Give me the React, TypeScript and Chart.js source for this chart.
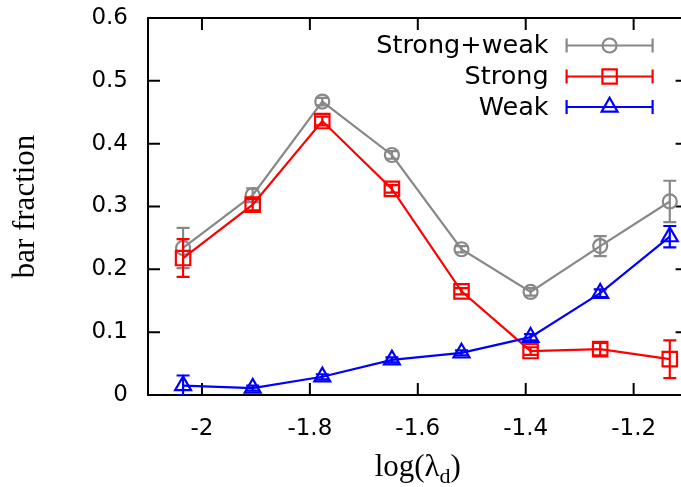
import React, { useEffect, useRef } from "react";
import { Chart, registerables } from "chart.js";
import { drawPoint } from "chart.js/helpers";

Chart.register(...registerables);

const logLambda = [-2.035, -1.906, -1.777, -1.648, -1.519, -1.391, -1.262, -1.133];
const strongWeakValues = [0.234, 0.318, 0.467, 0.382, 0.232, 0.164, 0.237, 0.308];
const strongWeakErrors = [0.032, 0.011, 0.006, 0.006, 0.005, 0.006, 0.016, 0.033];
const strongValues = [0.218, 0.303, 0.436, 0.328, 0.165, 0.07, 0.073, 0.057];
const strongErrors = [0.03, 0.009, 0.007, 0.006, 0.005, 0.006, 0.01, 0.03];
const weakValues = [0.015, 0.011, 0.029, 0.056, 0.067, 0.092, 0.162, 0.252];
const weakErrors = [0.016, 0.004, 0.004, 0.004, 0.004, 0.005, 0.006, 0.017];

const seriesNames = ["Strong+weak", "Strong", "Weak"];
const xTickValues = [-2, -1.8, -1.6, -1.4, -1.2];
const xTickLabels = ["-2", "-1.8", "-1.6", "-1.4", "-1.2"];
const yTickValues = [0, 0.1, 0.2, 0.3, 0.4, 0.5, 0.6];
const yTickLabels = ["0", "0.1", "0.2", "0.3", "0.4", "0.5", "0.6"];
const yTitle = "bar fraction";
const xTitleMain = "log(λ";
const xTitleSub = "d";
const xTitleEnd = ")";

const GRAY = "#888888";
const RED = "#ff0000";
const BLUE = "#0000ff";
const SANS = "'DejaVu Sans', sans-serif";
const SERIF = "'Liberation Serif', 'Times New Roman', serif";
const LW = 2.2;

const styles = [
  { color: GRAY, pointStyle: "circle", radius: 7 },
  { color: RED, pointStyle: "rect", radius: 10.2 },
  { color: BLUE, pointStyle: "triangle", radius: 9.2 },
];
const errorSets = [strongWeakErrors, strongErrors, weakErrors];

const framePlugin = {
  id: "frame",
  beforeDatasetsDraw(chart: any) {
    const { ctx, chartArea: a, scales } = chart;
    ctx.save();
    ctx.strokeStyle = "#000";
    ctx.lineWidth = 2;
    ctx.strokeRect(a.left, a.top, a.right - a.left, a.bottom - a.top);
    const tl = 12;
    ctx.beginPath();
    for (const v of xTickValues) {
      const px = scales.x.getPixelForValue(v);
      ctx.moveTo(px, a.bottom);
      ctx.lineTo(px, a.bottom - tl);
      ctx.moveTo(px, a.top);
      ctx.lineTo(px, a.top + tl);
    }
    for (const v of yTickValues) {
      const py = scales.y.getPixelForValue(v);
      ctx.moveTo(a.left, py);
      ctx.lineTo(a.left + tl, py);
      ctx.moveTo(a.right, py);
      ctx.lineTo(a.right - tl, py);
    }
    ctx.stroke();
    ctx.restore();
  },
};

const errorBarPlugin = {
  id: "errorBars",
  afterDatasetDraw(chart: any, args: any) {
    const { ctx, chartArea: a, scales } = chart;
    const idx = args.index;
    const ds = chart.data.datasets[idx];
    const errs = errorSets[idx];
    ctx.save();
    ctx.beginPath();
    ctx.rect(a.left, a.top, a.right - a.left, a.bottom - a.top);
    ctx.clip();
    ctx.strokeStyle = ds.borderColor;
    ctx.lineWidth = LW;
    ctx.beginPath();
    ds.data.forEach((p: any, i: number) => {
      const px = scales.x.getPixelForValue(p.x);
      const y1 = scales.y.getPixelForValue(p.y + errs[i]);
      const y2 = scales.y.getPixelForValue(p.y - errs[i]);
      const cw = 6.5;
      ctx.moveTo(px, y1);
      ctx.lineTo(px, y2);
      ctx.moveTo(px - cw, y1);
      ctx.lineTo(px + cw, y1);
      ctx.moveTo(px - cw, y2);
      ctx.lineTo(px + cw, y2);
    });
    ctx.stroke();
    ctx.restore();
  },
};

const legendPlugin = {
  id: "customLegend",
  afterDraw(chart: any) {
    const { ctx, chartArea: a } = chart;
    const rows = [a.top + 27.5, a.top + 58.5, a.top + 89];
    const textRight = a.right - 139;
    const lineL = a.right - 121;
    const lineR = a.right - 35;
    const mx = a.right - 78;
    ctx.save();
    ctx.font = `25.5px ${SANS}`;
    ctx.textAlign = "right";
    ctx.textBaseline = "middle";
    seriesNames.forEach((name, i) => {
      const y = rows[i];
      const s = styles[i];
      ctx.fillStyle = "#000";
      ctx.fillText(name, textRight, y + 1);
      ctx.strokeStyle = s.color;
      ctx.lineWidth = LW;
      ctx.beginPath();
      ctx.moveTo(lineL, y);
      ctx.lineTo(lineR, y);
      ctx.moveTo(lineL, y - 7);
      ctx.lineTo(lineL, y + 7);
      ctx.moveTo(lineR, y - 7);
      ctx.lineTo(lineR, y + 7);
      ctx.stroke();
      ctx.fillStyle = "rgba(0,0,0,0)";
      drawPoint(ctx, { pointStyle: s.pointStyle, rotation: 0, radius: s.radius, borderWidth: LW } as any, mx, y);
    });
    ctx.restore();
  },
};

const xTitlePlugin = {
  id: "xTitle",
  afterDraw(chart: any) {
    const { ctx, chartArea: a } = chart;
    ctx.save();
    const mainFont = `31px ${SERIF}`;
    const subFont = `22px ${SERIF}`;
    ctx.font = mainFont;
    const w1 = ctx.measureText(xTitleMain).width;
    const w3 = ctx.measureText(xTitleEnd).width;
    ctx.font = subFont;
    const w2 = ctx.measureText(xTitleSub).width;
    const total = w1 + w2 + w3;
    let x = (a.left + a.right) / 2 - total / 2;
    const base = a.bottom + 81;
    ctx.fillStyle = "#000";
    ctx.textBaseline = "alphabetic";
    ctx.textAlign = "left";
    ctx.font = mainFont;
    ctx.fillText(xTitleMain, x, base);
    x += w1;
    ctx.font = subFont;
    ctx.fillText(xTitleSub, x, base + 7);
    x += w2;
    ctx.font = mainFont;
    ctx.fillText(xTitleEnd, x, base);
    ctx.restore();
  },
};

export default function App() {
  const ref = useRef<HTMLCanvasElement>(null);
  useEffect(() => {
    const seriesValues = [strongWeakValues, strongValues, weakValues];
    const datasets = seriesNames.map((name, i) => ({
      label: name,
      data: logLambda.map((x, j) => ({ x, y: seriesValues[i][j] })),
      borderColor: styles[i].color,
      backgroundColor: "rgba(0,0,0,0)",
      borderWidth: LW,
      pointStyle: styles[i].pointStyle,
      pointRadius: styles[i].radius,
      pointHoverRadius: styles[i].radius,
      pointBorderWidth: LW,
      pointBorderColor: styles[i].color,
      pointBackgroundColor: "rgba(0,0,0,0)",
      tension: 0,
      fill: false,
      order: 3 - i,
    }));
    const chart = new Chart(ref.current as HTMLCanvasElement, {
      type: "line",
      data: { datasets },
      options: {
        animation: false,
        responsive: false,
        devicePixelRatio: 1,
        layout: { padding: { left: 0, top: 18, right: 11, bottom: 0 } },
        plugins: { legend: { display: false }, tooltip: { enabled: false } },
        events: [],
        scales: {
          x: {
            type: "linear",
            min: -2.1,
            max: -1.1,
            afterBuildTicks: (s: any) => {
              s.ticks = xTickValues.map((v) => ({ value: v }));
            },
            afterFit: (s: any) => {
              s.height = 92;
              s.paddingLeft = 0;
              s.paddingRight = 0;
            },
            grid: { display: false, drawTicks: false },
            border: { display: false },
            ticks: {
              padding: 20,
              maxRotation: 0,
              autoSkip: false,
              color: "#000",
              font: { family: SANS, size: 23 },
              callback: (_v: any, i: number) => xTickLabels[i],
            },
          },
          y: {
            type: "linear",
            min: 0,
            max: 0.6,
            afterBuildTicks: (s: any) => {
              s.ticks = yTickValues.map((v) => ({ value: v }));
            },
            afterFit: (s: any) => {
              s.width = 148;
              s.paddingTop = 0;
              s.paddingBottom = 0;
            },
            grid: { display: false, drawTicks: false },
            border: { display: false },
            title: {
              display: true,
              text: yTitle,
              color: "#000",
              font: { family: SERIF, size: 31, weight: "normal" },
              padding: { top: 7, bottom: 0 },
            },
            ticks: {
              padding: 20,
              autoSkip: false,
              color: "#000",
              font: { family: SANS, size: 23 },
              callback: (_v: any, i: number) => yTickLabels[i],
            },
          },
        },
      } as any,
      plugins: [framePlugin, errorBarPlugin, legendPlugin, xTitlePlugin],
    });
    return () => chart.destroy();
  }, []);
  return (
    <div style={{ position: "fixed", left: 0, top: 0, width: 681, height: 487, overflow: "hidden", background: "#fff" }}>
      <canvas ref={ref} width={700} height={487} style={{ display: "block", width: 700, height: 487 }} />
    </div>
  );
}
